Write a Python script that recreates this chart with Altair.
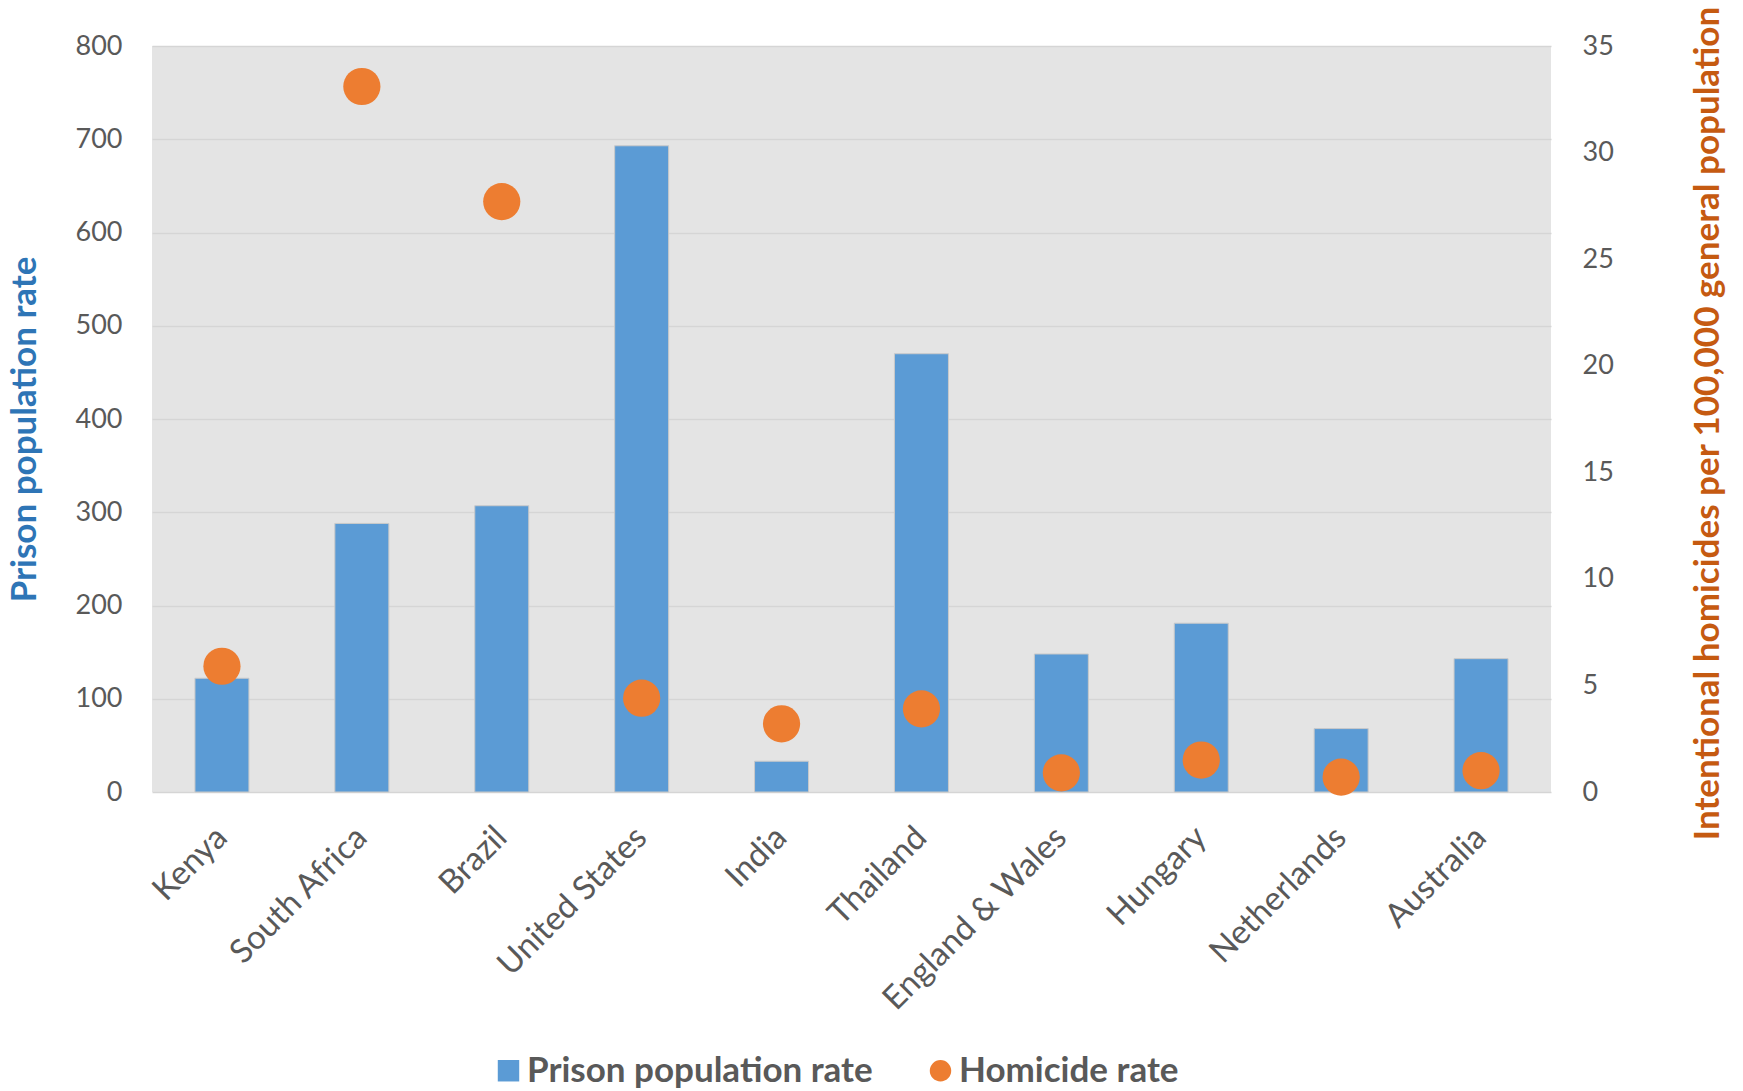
import altair as alt
import pandas as pd

countries = ["Kenya", "South Africa", "Brazil", "United States", "India",
             "Thailand", "England & Wales", "Hungary", "Netherlands", "Australia"]
prison_rate = [122, 288, 307, 693, 33, 470, 148, 181, 68, 143]
homicide_rate = [5.9, 33.1, 27.7, 4.4, 3.2, 3.9, 0.9, 1.5, 0.7, 1.0]
series_names = ["Prison population rate", "Homicide rate"]
left_ticks = [0, 100, 200, 300, 400, 500, 600, 700, 800]
right_ticks = [0, 5, 10, 15, 20, 25, 30, 35]

df = pd.DataFrame({
    "country": countries,
    "prison": prison_rate,
    "homicide": homicide_rate,
    "series": ["Homicide rate"] * len(countries),
})

GRAY = "#595959"
FONT = "Lato"

x_enc = alt.X(
    "country:N", sort=countries,
    scale=alt.Scale(paddingInner=0, paddingOuter=0),
    axis=alt.Axis(title=None, labelAngle=-45, labelAlign="right", labelBaseline="middle",
                  labelPadding=40, labelFontSize=33, labelColor=GRAY, labelFont=FONT,
                  ticks=False, domain=False, grid=False, labelLimit=1000),
)

bars = alt.Chart(df).mark_bar(size=54, color="#5B9BD5", stroke="#C9C9C9", strokeWidth=1).encode(
    x=x_enc,
    y=alt.Y("prison:Q", scale=alt.Scale(domain=[0, 800], nice=False),
            axis=alt.Axis(values=left_ticks, title="Prison population rate",
                          titleColor="#2E75B6", titleFontSize=35, titleFontWeight="bold",
                          titleFont=FONT, titleAngle=270, titleX=-117, titleY=383,
                          titleAlign="center", titleBaseline="alphabetic",
                          labelFontSize=27, labelColor=GRAY, labelFont=FONT, labelPadding=30,
                          ticks=False, tickSize=0, domain=False, grid=True,
                          gridColor="#D5D5D5", gridWidth=1.5)),
)

legend_def = alt.Legend(orient="none", legendX=339, legendY=1007, direction="horizontal",
                        title=None, labelFont=FONT, labelFontSize=35, labelFontWeight="bold",
                        labelColor=GRAY, symbolSize=460, labelOffset=1, columnPadding=50,
                        labelLimit=1000, symbolStrokeWidth=0, padding=0)

points = alt.Chart(df).mark_point(filled=True, size=1385, opacity=1, strokeWidth=0).encode(
    x=x_enc,
    y=alt.Y("homicide:Q", scale=alt.Scale(domain=[0, 35], nice=False),
            axis=alt.Axis(orient="right", values=right_ticks,
                          title="Intentional homicides per 100,000 general population",
                          titleColor="#C55A11", titleFontSize=35, titleFontWeight="bold",
                          titleFont=FONT, titleAngle=270, titleX=167, titleY=377,
                          titleAlign="center", titleBaseline="alphabetic",
                          labelFontSize=27, labelColor=GRAY, labelFont=FONT, labelPadding=31,
                          ticks=False, tickSize=0, domain=False, grid=False)),
    color=alt.Color("series:N", scale=alt.Scale(domain=series_names, range=["#5B9BD5", "#ED7D31"]),
                    legend=legend_def),
    shape=alt.Shape("series:N", scale=alt.Scale(domain=series_names, range=["square", "circle"]),
                    legend=legend_def),
)

chart = alt.layer(bars, points).resolve_scale(y="independent").properties(
    width=1399, height=746,
    autosize=alt.AutoSizeParams(type="none"),
    padding={"left": 152, "top": 46, "right": 192, "bottom": 299},
    background="white",
).configure_view(fill="#E4E4E4", strokeWidth=0)

chart.save("out.html", embed_options={"renderer": "svg", "actions": False})
